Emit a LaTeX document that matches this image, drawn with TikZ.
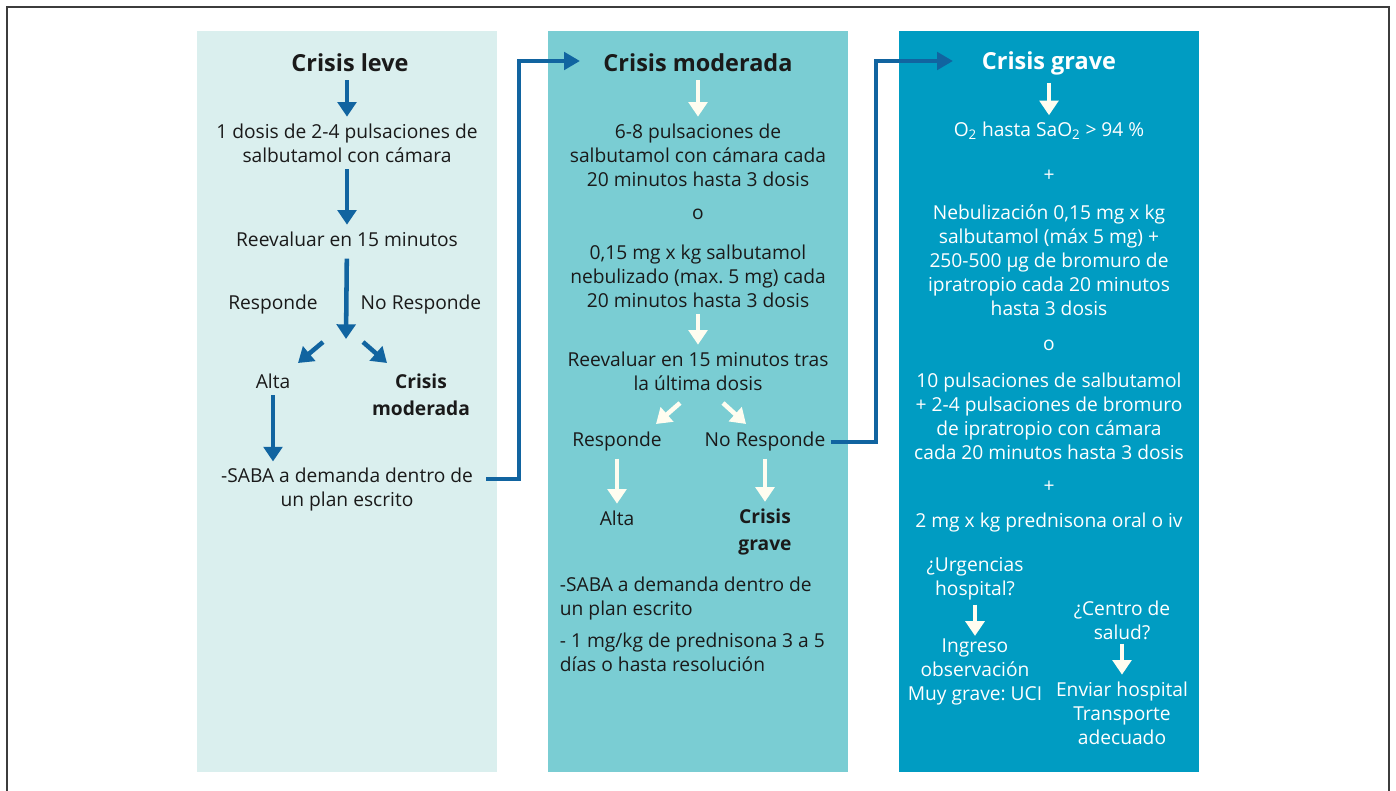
\documentclass[tikz,border=0pt]{standalone}
\usepackage{fontspec}
\setmainfont{Open Sans}
\frenchspacing
\usetikzlibrary{arrows.meta}

\begin{document}
\begin{tikzpicture}[x=0.75pt,y=-0.75pt,
  txt/.style={align=center, inner sep=2pt, text=textdark, font=\fontsize{14.4}{18}\selectfont},
  txtb/.style={txt, font=\fontsize{14.4}{20.5}\selectfont\bfseries},
  txtl/.style={txt, align=left, anchor=west},
  txtw/.style={txt, text=white},
  title/.style={txt, font=\fontsize{17.6}{20}\selectfont\bfseries},
  barrow/.style={draw=arrowblue, line width=3.4pt, -{Triangle[width=14pt,length=11pt]}, shorten <=3pt, shorten >=3pt},
  warrow/.style={barrow, draw=arrowwhite, -{Triangle[width=14pt,length=11pt]}},
  conn/.style={draw=arrowblue, line width=3pt, -{Triangle[width=13pt,length=12pt]}}]
%Define all colors here.

\definecolor{textdark}{RGB}{26,26,26}
\definecolor{arrowblue}{RGB}{17,100,160}
\definecolor{arrowwhite}{RGB}{255,253,240}
\definecolor{c1fill}{RGB}{218,239,238}
\definecolor{c2fill}{RGB}{122,205,211}
\definecolor{c3fill}{RGB}{0,156,194}
\definecolor{framedraw}{RGB}{60,60,60}

\useasboundingbox (0,0) rectangle (1396,791);
\draw[framedraw, line width=1.5pt] (7,791) -- (7,7) -- (1389,7) -- (1389,791);

\fill[c1fill] (197,31) rectangle (497,772);
\fill[c2fill] (548,31) rectangle (848,772);
\fill[c3fill] (899,31) rectangle (1199,772);

%Crisis leve
\node(leve) at (350,63) [title] {Crisis leve};
\node(dosis1) at (347,143) [txt] {1 dosis de 2-4 pulsaciones de\\salbutamol con cámara};
\node(reev1) at (347,239) [txt] {Reevaluar en 15 minutos};
\node(resp1) at (273,305) [txt] {Responde};
\node(noresp1) at (421,305) [txt] {No Responde};
\node(alta1) at (273,381) [txt] {Alta};
\node(mod1) at (421,395) [txtb] {Crisis\\moderada};
\node(saba1) at (347,490) [txt] {-SABA a demanda dentro de\\un plan escrito};
\coordinate(split1) at (346,339);
\coordinate(dl1) at (323,342);
\coordinate(dl1e) at (298,363);
\coordinate(dr1) at (363,342);
\coordinate(dr1e) at (387,363);
\coordinate(out1) at (486,479);
\coordinate(in2) at (580,61);

\draw[barrow, shorten <=4pt] (leve.south -| dosis1) -- (dosis1);
\draw[barrow] (dosis1) -- (reev1);
\draw[barrow, shorten <=7pt, shorten >=0pt] (reev1) -- (split1);
\draw[barrow, shorten <=0pt, shorten >=0pt] (dl1) -- (dl1e);
\draw[barrow, shorten <=0pt, shorten >=0pt] (dr1) -- (dr1e);
\draw[barrow] (alta1) -- (alta1 |- saba1.north);
\draw[conn] (out1) -- ++(33,0) |- (in2);

%Crisis moderada
\node(mod2) at (698,63) [title] {Crisis moderada};
\node(pul2) at (698,155) [txt] {6-8 pulsaciones de\\salbutamol con cámara cada\\20 minutos hasta 3 dosis};
\node(o2) at (698,214) [txt] {o};
\node(neb2) at (698,276) [txt] {0,15 mg x kg salbutamol\\nebulizado (max. 5 mg) cada\\20 minutos hasta 3 dosis};
\node(reev2) at (698,371) [txt] {Reevaluar en 15 minutos tras\\la última dosis};
\node(resp2) at (617,442) [txt] {Responde};
\node(noresp2) at (765,442) [txt] {No Responde};
\node(alta2) at (617,518) [txt] {Alta};
\node(grave2) at (765,532) [txtb] {Crisis\\grave};
\node(saba2) at (557,599) [txtl] {-SABA a demanda dentro de\\un plan escrito};
\node(pred2) at (557,652) [txtl] {- 1 mg/kg de prednisona 3 a 5\\días o hasta resolución};
\coordinate(dl2) at (680,403);
\coordinate(dl2e) at (656,424);
\coordinate(dr2) at (723,403);
\coordinate(dr2e) at (746,424);
\coordinate(in3) at (953,61);

\draw[warrow, shorten <=4pt] (mod2) -- (pul2);
\draw[warrow] (neb2) -- (reev2);
\draw[warrow, shorten <=0pt, shorten >=0pt] (dl2) -- (dl2e);
\draw[warrow, shorten <=0pt, shorten >=0pt] (dr2) -- (dr2e);
\draw[warrow] (resp2) -- (alta2);
\draw[warrow] (noresp2) -- (noresp2 |- grave2.north);
\draw[conn] ([xshift=2pt]noresp2.east) -- ++(45,0) |- (in3);

%Crisis grave
\node(grave3) at (1049,63) [title, text=white] {Crisis grave};
\node(oxi3) at (1049,131) [txtw] {O\textsubscript{2} hasta SaO\textsubscript{2} > 94 \%};
\node(mas3a) at (1049,176) [txtw] {+};
\node(neb3) at (1049,260) [txtw] {Nebulización 0,15 mg x kg\\salbutamol (máx 5 mg) +\\250-500 µg de bromuro de\\ipratropio cada 20 minutos\\hasta 3 dosis};
\node(o3) at (1049,345) [txtw] {o};
\node(pul3) at (1049,416) [txtw] {10 pulsaciones de salbutamol\\+ 2-4 pulsaciones de bromuro\\de ipratropio con cámara\\cada 20 minutos hasta 3 dosis};
\node(mas3b) at (1049,487) [txtw] {+};
\node(pred3) at (1049,523) [txtw] {2 mg x kg prednisona oral o iv};
\node(urg3) at (975,579) [txtw] {¿Urgencias\\hospital?};
\node(ingr3) at (975,672) [txtw] {Ingreso\\observación\\Muy grave: UCI};
\node(cen3) at (1122,620) [txtw] {¿Centro de\\salud?};
\node(env3) at (1122,713) [txtw] {Enviar hospital\\Transporte\\adecuado};

\draw[warrow, shorten <=4pt] (grave3.south -| oxi3) -- (oxi3);
\draw[warrow, shorten <=1pt, shorten >=0pt] (urg3) -- (ingr3);
\draw[warrow, shorten <=1pt] (cen3) -- (env3);
\end{tikzpicture}
\end{document}
